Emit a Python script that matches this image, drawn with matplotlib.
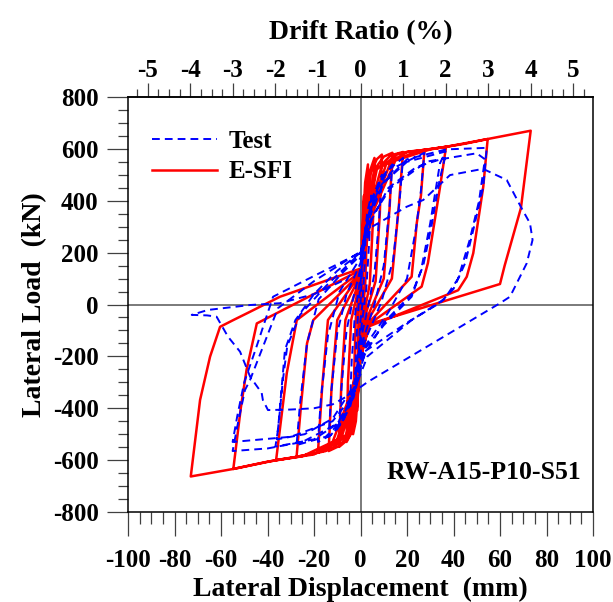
import matplotlib
matplotlib.use("Agg")
import matplotlib.pyplot as plt
from matplotlib.ticker import MultipleLocator
from matplotlib.lines import Line2D

plt.rcParams['font.family'] = ['Liberation Serif', 'DejaVu Serif']
plt.rcParams['font.weight'] = 'bold'
plt.rcParams['axes.unicode_minus'] = False

# Wall height used to convert lateral displacement (mm) to drift ratio (%)
WALL_HEIGHT_MM = 1830.0

# ---- E-SFI model: one list of (displacement mm, load kN) points per cycle ----
esfi_c01 = [(0.2, 50), (0.6, 250), (1.5, 420), (1.2, 200), (0.8, 40), (0.3, -40),
            (-0.5, -250), (-1.5, -410), (-1.2, -190), (-0.8, -30)]
esfi_c02 = [(0.3, 80), (1.0, 300), (2.0, 470), (3.2, 540), (2.8, 300), (2.0, 70), (0.5, -60),
            (-0.8, -300), (-2.0, -450), (-3.2, -500), (-2.8, -280), (-2.0, -50)]
esfi_c03 = [(0.3, 100), (1.5, 330), (3.5, 500), (6.0, 565), (5.4, 330), (4.0, 80), (0.8, -70),
            (-1.0, -330), (-3.0, -480), (-6.0, -530), (-5.4, -300), (-4.0, -60)]
esfi_c04 = [(0.4, 110), (2.0, 340), (4.5, 510), (7.0, 560), (9.2, 578), (8.3, 350), (6.5, 90),
            (1.0, -75), (-1.5, -340), (-4.0, -490), (-6.0, -525), (-9.2, -549), (-8.3, -320),
            (-6.5, -60)]
esfi_c05 = [(0.5, 115), (2.5, 350), (6.0, 520), (10.0, 570), (13.7, 585), (12.5, 370),
            (10.0, 100), (1.5, -80), (-2.0, -350), (-5.0, -500), (-9.0, -545), (-13.7, -565),
            (-12.5, -330), (-10.0, -60)]
esfi_c06 = [(0.5, 120), (3.0, 350), (7.0, 520), (13.0, 575), (18.3, 588), (16.5, 380),
            (13.5, 100), (2.0, -80), (-2.5, -350), (-6.0, -500), (-12.0, -555), (-18.3, -570),
            (-16.5, -320), (-14.0, -60)]
esfi_c07 = [(0.5, 125), (3.5, 350), (9.0, 530), (16.0, 580), (21.0, 590), (27.5, 596),
            (26.0, 420), (24.2, 314), (22.0, 107), (2.5, -80), (-3.0, -350), (-8.0, -510),
            (-15.0, -565), (-20.0, -575), (-27.5, -587), (-25.5, -380), (-23.0, -150),
            (-20.3, -60)]
esfi_c08 = [(0.5, 125), (4.0, 350), (11.0, 540), (20.0, 588), (27.5, 596), (36.8, 608),
            (34.0, 441), (29.0, 160), (26.3, 69), (3.0, -80), (-3.5, -350), (-9.0, -515),
            (-18.0, -570), (-27.4, -587), (-36.3, -600), (-31.7, -264), (-27.4, -60)]
esfi_c09 = [(0.5, 130), (4.5, 350), (13.0, 550), (25.0, 593), (36.8, 608), (54.7, 638),
            (52.8, 454), (48.5, 198), (45.7, 107), (42.0, 55), (3.5, -85), (-4.0, -350),
            (-10.0, -520), (-20.0, -578), (-36.3, -600), (-54.7, -634), (-51.5, -400),
            (-49.0, -252), (-44.6, -73)]
esfi_c10 = [(0.5, 135), (5.0, 350), (15.0, 555), (30.0, 598), (45.0, 620), (54.7, 638),
            (73.2, 670), (69.0, 372), (62.0, 150), (60.0, 79), (4.0, -75), (-4.5, -350),
            (-12.0, -530), (-25.0, -585), (-40.0, -606), (-54.7, -634), (-73.0, -663),
            (-69.0, -368), (-64.7, -201), (-60.4, -86), (-54.7, -60), (-47.5, -28),
            (-34.6, 30), (0.5, 140)]

# ---- Test: measured hysteresis, one list per cycle ----
test_c01 = [(0.0, 0), (1.0, 200), (2.3, 300), (1.8, 150), (0.8, 0), (0.0, -60),
            (-1.0, -190), (-2.3, -280), (-1.8, -140), (-0.8, 0)]
test_c02 = [(0.0, 80), (1.5, 250), (3.0, 360), (4.6, 420), (3.8, 250), (2.5, 60), (0.5, -80),
            (-1.5, -250), (-3.0, -340), (-4.6, -400), (-3.8, -220), (-2.5, -50)]
test_c03 = [(0.0, 110), (2.0, 280), (5.0, 410), (9.2, 500), (8.0, 330), (6.0, 120), (3.0, -20),
            (0.5, -120), (-2.0, -290), (-5.0, -400), (-9.2, -470), (-8.0, -300),
            (-6.0, -100), (-3.0, 30)]
test_c04 = [(0.0, 140), (2.5, 300), (6.0, 430), (10.0, 500), (13.7, 540), (12.5, 380),
            (10.0, 150), (6.0, 0), (1.0, -140), (-2.5, -310), (-6.0, -420), (-10.0, -480),
            (-13.7, -510), (-12.5, -330), (-10.0, -110), (-6.0, 40)]
test_c05 = [(0.0, 160), (3.0, 320), (7.0, 440), (12.0, 520), (18.3, 565), (17.0, 420),
            (14.0, 170), (9.0, 10), (1.5, -150), (-3.0, -330), (-7.0, -440), (-12.0, -500),
            (-18.3, -530), (-17.0, -360), (-14.0, -120), (-9.0, 50)]
test_c06 = [(0.0, 180), (3.0, 330), (8.0, 450), (15.0, 530), (27.5, 585), (26.0, 440),
            (24.0, 300), (20.0, 100), (12.0, -30), (2.0, -160), (-3.0, -340), (-8.0, -450),
            (-15.0, -510), (-27.5, -542), (-26.0, -380), (-23.0, -150), (-18.0, 20),
            (-8.0, 120)]
test_c07 = [(0.0, 190), (4.0, 340), (10.0, 470), (20.0, 550), (36.6, 590), (34.2, 545),
            (30.0, 314), (26.0, 130), (22.0, 30), (10.0, -80), (2.0, -170), (-3.0, -350),
            (-10.0, -460), (-20.0, -520), (-36.6, -548), (-35.5, -484), (-34.0, -330),
            (-32.5, -175), (-28.0, -60), (-20.0, 40), (-10.0, 130)]
test_c08 = [(0.0, 200), (5.0, 330), (12.0, 450), (24.0, 530), (36.3, 565), (34.0, 480),
            (30.5, 300), (27.0, 150), (22.0, 40), (10.0, -70), (2.0, -190), (-4.0, -330),
            (-12.0, -440), (-24.0, -500), (-36.0, -520), (-35.0, -440), (-33.5, -300),
            (-31.5, -160), (-26.0, -40), (-15.0, 70)]
test_c09 = [(0.0, 200), (4.0, 350), (10.0, 470), (20.0, 560), (36.8, 598), (54.3, 604),
            (52.8, 454), (48.5, 287), (45.0, 159), (40.0, 60), (34.0, 5), (20.0, -70),
            (2.0, -180), (-3.0, -360), (-10.0, -460), (-25.0, -530), (-40.0, -555),
            (-55.0, -565), (-52.7, -457), (-49.7, -330), (-47.5, -291), (-43.0, -187),
            (-35.5, -14), (-20.0, 90)]
test_c10 = [(0.0, 204), (5.0, 340), (13.0, 450), (28.5, 551), (50.0, 583), (53.5, 560),
            (51.0, 400), (47.0, 250), (42.0, 100), (36.0, 20), (22.0, -60), (3.0, -200),
            (-4.0, -360), (-12.0, -450), (-30.0, -510), (-55.0, -530), (-53.0, -430),
            (-50.0, -300), (-45.0, -170), (-37.6, 30), (-20.0, 110)]
test_c11 = [(0.0, 200), (5.0, 300), (19.9, 377), (27.0, 403), (38.5, 499), (52.7, 523),
            (62.9, 480), (69.3, 371), (72.9, 313), (74.0, 249), (71.5, 159), (64.3, 30),
            (60.0, 5), (3.2, -298), (-5.0, -350), (-12.0, -385), (-20.0, -400), (-30.0, -405),
            (-39.8, -407), (-42.0, -368), (-42.5, -341), (-47.5, -278), (-51.8, -182),
            (-57.0, -124), (-61.9, -47), (-66.0, -42), (-72.6, -40), (-65.6, -21),
            (-47.5, -2), (-34.6, 5), (-20.0, 40), (-8.0, 90)]

esfi_cycles = [esfi_c01, esfi_c02, esfi_c03, esfi_c04, esfi_c05,
               esfi_c06, esfi_c07, esfi_c08, esfi_c09, esfi_c10]
test_cycles = [test_c01, test_c02, test_c03, test_c04, test_c05, test_c06,
               test_c07, test_c08, test_c09, test_c10, test_c11]

x_ticks = list(range(-100, 101, 20))
y_ticks = list(range(-800, 801, 200))
drift_ticks = [-5, -4, -3, -2, -1, 0, 1, 2, 3, 4, 5]
specimen = "RW-A15-P10-S51"


def join(cycles):
    xs, ys = [], []
    for cyc in cycles:
        for x, y in cyc:
            xs.append(x)
            ys.append(y)
    return xs, ys


fig = plt.figure(figsize=(6.13, 6.02), dpi=100)
ax = fig.add_axes([128 / 613, 90 / 602, 465 / 613, 415 / 602])

ax.axhline(0, color='#707070', lw=1.3, zorder=1)
ax.axvline(0, color='#707070', lw=1.3, zorder=1)

ex, ey = join(esfi_cycles)
tx, ty = join(test_cycles)
ax.plot(ex, ey, color='#ff0000', lw=1.8, zorder=2, solid_joinstyle='round')
ax.plot(tx, ty, color='#0000ff', lw=1.4, zorder=3, linestyle=(0, (4.0, 2.6)))

ax.set_xlim(-100, 100)
ax.set_ylim(-800, 800)
ax.set_xticks(x_ticks)
ax.set_yticks(y_ticks)
ax.xaxis.set_minor_locator(MultipleLocator(5))
ax.yaxis.set_minor_locator(MultipleLocator(50))
ax.tick_params(axis='x', which='major', direction='out', length=17.3, width=0.9,
               color='#404040', labelsize=18, pad=9, top=False)
ax.tick_params(axis='x', which='minor', direction='out', length=8.3, width=0.9,
               color='#404040', top=False)
ax.tick_params(axis='y', which='major', direction='out', length=15.1, width=0.9,
               color='#404040', labelsize=18, pad=6, right=False)
ax.tick_params(axis='y', which='minor', direction='out', length=7.2, width=0.9,
               color='#404040', right=False)
for s in ax.spines.values():
    s.set_linewidth(1.1)
    s.set_color('black')

ax.set_xlabel("Lateral Displacement  (mm)", fontsize=20, fontweight='bold', labelpad=4)
ax.set_ylabel("Lateral Load  (kN)", fontsize=20, fontweight='bold', labelpad=4)


def mm_to_drift(d):
    return d / WALL_HEIGHT_MM * 100.0


def drift_to_mm(r):
    return r * WALL_HEIGHT_MM / 100.0


sec = ax.secondary_xaxis('top', functions=(mm_to_drift, drift_to_mm))
sec.set_xticks(drift_ticks)
sec.xaxis.set_minor_locator(MultipleLocator(0.25))
sec.tick_params(axis='x', which='major', direction='out', length=9.9, width=0.9,
                color='#404040', labelsize=18, pad=1)
sec.tick_params(axis='x', which='minor', direction='out', length=5.9, width=0.9,
                color='#404040')
sec.spines['top'].set_linewidth(1.1)
sec.set_xlabel("Drift Ratio (%)", fontsize=20, fontweight='bold', labelpad=14)

handles = [Line2D([], [], color='#0000ff', lw=1.4, linestyle=(0, (4.0, 2.6))),
           Line2D([], [], color='#ff0000', lw=1.8)]
ax.legend(handles, ["Test", "E-SFI"], loc='upper left', bbox_to_anchor=(0.03, 0.945),
          frameon=False, fontsize=18, handlelength=2.6, handletextpad=0.45,
          labelspacing=0.3, borderaxespad=0.0)

ax.text(0.975, 0.095, specimen, transform=ax.transAxes, ha='right', va='center',
        fontsize=18.5, fontweight='bold')

fig.savefig("out.png", dpi=100)
